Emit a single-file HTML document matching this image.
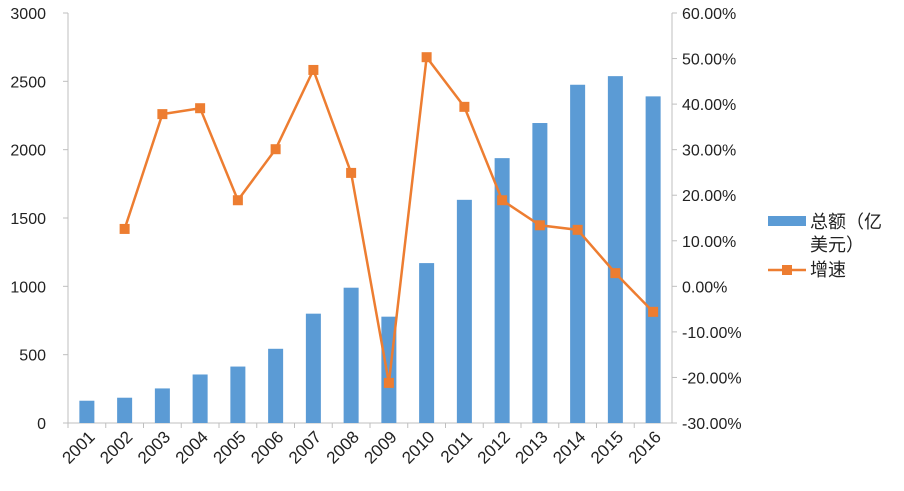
<!DOCTYPE html>
<html><head><meta charset="utf-8"><style>
body{margin:0;background:#fff;}
svg{display:block;font-family:"Liberation Sans","Noto Sans CJK SC",sans-serif;}
</style></head><body>
<svg id="chart" width="904" height="491" viewBox="0 0 904 491"></svg>
<script>
const years=["2001","2002","2003","2004","2005","2006","2007","2008","2009","2010","2011","2012","2013","2014","2015","2016"];
const totals=[163,185,253,355,413,543,800,990,778,1170,1633,1938,2195,2475,2538,2390];
const growth=[null,12.6,37.8,39.1,18.9,30.1,47.5,24.9,-21.2,50.3,39.4,18.9,13.4,12.4,2.9,-5.6];
const leftTicks=[0,500,1000,1500,2000,2500,3000];
const rightTicks=[-30,-20,-10,0,10,20,30,40,50,60];
const NS="http://www.w3.org/2000/svg";
const svg=document.getElementById('chart');
const X0=68,X1=672,Y0=423,Y1=13;
const bw=(X1-X0)/years.length;
const xc=i=>X0+bw*(i+0.5);
const yL=v=>Y0-(v/3000)*(Y0-Y1);
const yR=v=>Y0-((v+30)/90)*(Y0-Y1);
function mk(t,a){const e=document.createElementNS(NS,t);for(const k in a)e.setAttribute(k,a[k]);svg.appendChild(e);return e;}
let e;
e=mk('line',{x1:X0,y1:Y1,x2:X0,y2:Y0,stroke:'#bfbfbf'});

e=mk('line',{x1:X1,y1:Y1,x2:X1,y2:Y0,stroke:'#bfbfbf'});

e=mk('line',{x1:X0,y1:Y0,x2:X1,y2:Y0,stroke:'#bfbfbf'});

leftTicks.forEach(v=>{
 mk('line',{x1:X0-5,y1:yL(v),x2:X0,y2:yL(v),stroke:'#bfbfbf'});
 e=mk('text',{x:46,y:yL(v)+6,'text-anchor':'end','font-size':16,fill:'#222'});e.textContent=v;
 
});
rightTicks.forEach(v=>{
 mk('line',{x1:X1,y1:yR(v),x2:X1+5,y2:yR(v),stroke:'#bfbfbf'});
 e=mk('text',{x:682,y:yR(v)+6,'text-anchor':'start','font-size':16,fill:'#222'});e.textContent=v.toFixed(2)+'%';
 
});
years.forEach((y,i)=>{
 mk('line',{x1:X0+bw*i,y1:Y0,x2:X0+bw*i,y2:Y0+5,stroke:'#bfbfbf'});
 e=mk('rect',{x:xc(i)-7.5,y:yL(totals[i]),width:15,height:Y0-yL(totals[i]),fill:'#5b9bd5'});
 
 e=mk('text',{x:xc(i)+9,y:438,'text-anchor':'end','font-size':17,fill:'#222',transform:`rotate(-45 ${xc(i)+9} 438)`});e.textContent=y;
 
});
let pts=[];growth.forEach((g,i)=>{if(g!==null)pts.push(xc(i)+','+yR(g));});
e=mk('polyline',{points:pts.join(' '),fill:'none',stroke:'#ed7d31','stroke-width':2.5});

growth.forEach((g,i)=>{if(g===null)return;
 e=mk('rect',{x:xc(i)-5,y:yR(g)-5,width:10,height:10,fill:'#ed7d31'});
 
});
e=mk('rect',{x:768,y:216,width:38,height:10,fill:'#5b9bd5'});

e=mk('text',{x:810,y:228,'font-size':18,fill:'#222'});e.textContent='总额（亿';

e=mk('text',{x:810,y:251,'font-size':18,fill:'#222'});e.textContent='美元）';

e=mk('line',{x1:768,y1:270,x2:806,y2:270,stroke:'#ed7d31','stroke-width':2.5});

mk('rect',{x:782,y:265,width:10,height:10,fill:'#ed7d31'});
e=mk('text',{x:810,y:276,'font-size':18,fill:'#222'});e.textContent='增速';

</script>
</body></html>
